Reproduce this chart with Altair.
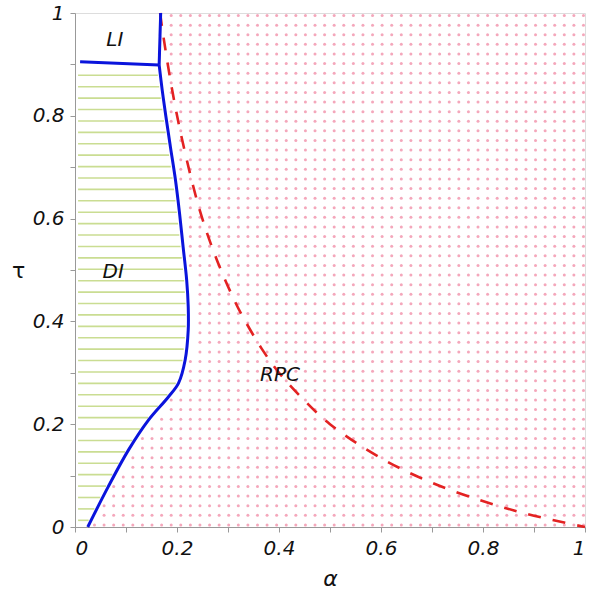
import altair as alt
import numpy as np
import pandas as pd

# Blue phase boundary (DI / RPC)
blue_tau = [0.0, 0.078, 0.15, 0.208, 0.253, 0.28, 0.325, 0.383, 0.429, 0.48, 0.545, 0.61, 0.675, 0.74, 0.8, 0.85, 0.899]
blue_alpha = [0.025, 0.065, 0.105, 0.144, 0.183, 0.203, 0.216, 0.222, 0.222, 0.219, 0.212, 0.205, 0.197, 0.187, 0.178, 0.171, 0.165]
# Blue vertical segment (LI / RPC)
vert_alpha = [0.165, 0.168]
vert_tau = [0.899, 1.0]
# Blue LI / DI boundary (horizontal)
li_alpha = [0.01, 0.165]
li_tau = [0.905, 0.899]
# Red dashed curve
red_alpha = [0.167, 0.171, 0.19, 0.212, 0.245, 0.278, 0.314, 0.333, 0.366, 0.4, 0.444, 0.5, 0.6, 0.7, 0.807, 0.9, 1.0]
red_tau = [1.0, 0.97, 0.853, 0.745, 0.615, 0.52, 0.438, 0.402, 0.347, 0.30, 0.252, 0.20, 0.134, 0.086, 0.048, 0.022, 0.0]
# Region labels
reg_text = ["LI", "DI", "RPC"]
reg_alpha = [0.078, 0.075, 0.402]
reg_tau = [0.947, 0.497, 0.296]

FONT = "DejaVu Sans"
xs = alt.Scale(domain=[0, 1], nice=False, zero=False)
ys = alt.Scale(domain=[0, 1], nice=False, zero=False)

# --- textures (styling only) ---
all_tau = blue_tau + vert_tau[1:]
all_alpha = blue_alpha + vert_alpha[1:]


def boundary(t):
    return np.interp(t, all_tau, all_alpha)


# green hatching lines in DI region
hatch_tau = np.arange(0.013, 0.895, 0.0222)
hatch = pd.DataFrame({
    "y": hatch_tau,
    "x0": 0.006,
    "x1": boundary(hatch_tau) - 0.005,
})
# pink dots in RPC region
gx = np.arange(0.997, 0.0, -0.0188)
gy = np.arange(0.004, 1.0, 0.0187)
GX, GY = np.meshgrid(gx, gy)
GX, GY = GX.ravel(), GY.ravel()
keep = GX > boundary(GY) + 0.009
dots = pd.DataFrame({"x": GX[keep], "y": GY[keep]})

hatch_layer = alt.Chart(hatch).mark_rule(color="#cadd92", strokeWidth=1.6).encode(
    x=alt.X("x0:Q", scale=xs), x2="x1:Q", y=alt.Y("y:Q", scale=ys))
dot_layer = alt.Chart(dots).mark_circle(color="#f08aa4", size=9, opacity=0.75).encode(
    x=alt.X("x:Q", scale=xs), y=alt.Y("y:Q", scale=ys))

blue_df = pd.DataFrame({"a": blue_alpha, "t": blue_tau, "o": range(len(blue_tau))})
seg_df = pd.DataFrame({
    "a": vert_alpha + li_alpha,
    "t": vert_tau + li_tau,
    "s": ["v", "v", "h", "h"],
    "o": [0, 1, 0, 1],
})
red_df = pd.DataFrame({"a": red_alpha, "t": red_tau, "o": range(len(red_tau))})
lab_df = pd.DataFrame({"txt": reg_text, "a": reg_alpha, "t": reg_tau})

blue_line = alt.Chart(blue_df).mark_line(color="#0a14dc", strokeWidth=3, interpolate="catmull-rom").encode(
    x=alt.X("a:Q", scale=xs), y=alt.Y("t:Q", scale=ys), order="o:Q")
seg_line = alt.Chart(seg_df).mark_line(color="#0a14dc", strokeWidth=3).encode(
    x=alt.X("a:Q", scale=xs), y=alt.Y("t:Q", scale=ys), detail="s:N", order="o:Q")
red_line = alt.Chart(red_df).mark_line(color="#e32222", strokeWidth=2.6, strokeDash=[13, 12],
                                       interpolate="catmull-rom").encode(
    x=alt.X("a:Q", scale=xs), y=alt.Y("t:Q", scale=ys), order="o:Q")
labels = alt.Chart(lab_df).mark_text(font=FONT, fontSize=20, fontStyle="italic", color="#111").encode(
    x=alt.X("a:Q", scale=xs), y=alt.Y("t:Q", scale=ys), text="txt:N")

ticks = [round(i * 0.1, 1) for i in range(11)]
lab_expr = "round(datum.value*10) % 2 == 0 ? format(datum.value, '~g') : ''"

base = alt.Chart(pd.DataFrame({"a": [0], "t": [0]})).mark_point(opacity=0).encode(
    x=alt.X("a:Q", scale=xs, axis=alt.Axis(
        values=ticks, labelExpr=lab_expr, title="α", grid=False,
        titleFont=FONT, titleFontSize=22, titleFontStyle="italic", titleFontWeight="normal",
        titleY=51, titleBaseline="middle", titleColor="#111",
        labelFont=FONT, labelFontSize=20, labelFontStyle="italic", labelColor="#111",
        labelPadding=6, tickSize=5, tickColor="#999", domainColor="#999")),
    y=alt.Y("t:Q", scale=ys, axis=alt.Axis(
        values=ticks, labelExpr=lab_expr, title="τ", grid=False,
        titleFont=FONT, titleFontSize=22, titleFontWeight="normal", titleAngle=0,
        titleX=-57, titleY=257, titleAlign="center", titleBaseline="middle", titleColor="#111",
        labelFont=FONT, labelFontSize=20, labelFontStyle="italic", labelColor="#111",
        labelPadding=6, tickSize=5, tickColor="#999", domainColor="#999")),
)

chart = alt.layer(base, dot_layer, hatch_layer, red_line, blue_line, seg_line, labels).properties(
    width=510, height=514,
    autosize=alt.AutoSizeParams(type="none"),
    padding={"left": 75, "top": 13, "right": 7, "bottom": 66},
).configure_view(stroke="#999", strokeWidth=1).configure(background="white")

chart.save("out.html", embed_options={"renderer": "svg", "actions": False})
